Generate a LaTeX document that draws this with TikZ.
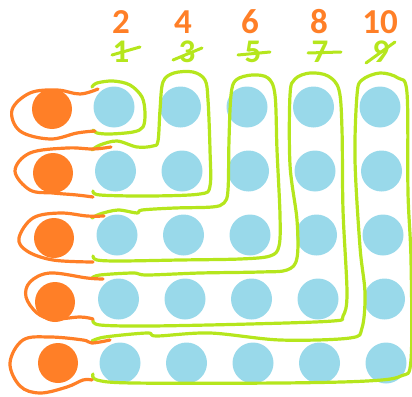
\documentclass[tikz,border=0pt]{standalone}
\usepackage{fontspec}
\setmainfont{Carlito}
\definecolor{dotblue}{HTML}{99D9EA}
\definecolor{dotorange}{HTML}{FF7F27}
\definecolor{loopgreen}{HTML}{B5E61D}
\begin{document}
\begin{tikzpicture}[x=1pt,y=-1pt,line cap=round,line join=round,
  bluedot/.style={circle,fill=dotblue,minimum size=41pt,inner sep=0pt},
  orangedot/.style={circle,fill=dotorange,minimum size=40pt,inner sep=0pt},
  greenloop/.style={draw=loopgreen,line width=3.2pt},
  orangeloop/.style={draw=dotorange,line width=3.2pt},
  strike/.style={draw=loopgreen,line width=3pt},
  evennum/.style={text=dotorange,inner sep=0pt,font=\fontsize{35}{36}\selectfont\bfseries},
  oddnum/.style={text=loopgreen,inner sep=0pt,font=\fontsize{33}{34}\selectfont\bfseries}]
  \useasboundingbox (0,0) rectangle (412,396);
  % dots
  \foreach \r in {1,...,5} {
    \foreach \c in {1,...,5}
      \node[bluedot] (b\r\c) at ({114+66.5*(\c-1)+1.5*(\r-1)},{107+64*(\r-1)}) {};
  }
  \foreach \r/\x/\y in {1/52/109,2/53/173,3/54/238,4/55/302,5/58/363}
    \node[orangedot] (o\r) at (\x,\y) {};
  % numbers
  \foreach \n/\x in {2/121,4/183,6/250,8/319,10/380}
    \node[evennum] (num\n) at (\x,22) {\n};
  \foreach \n/\x/\ax/\ay/\bx/\by in {1/121/-9/3/19/-5,3/187/-14/8/15/-4,5/253/-15/3/17/0,7/320/-12/1/21/0,9/381/-15/11/14/-10} {
    \node[oddnum] (odd\n) at (\x,52) {\n};
    \draw[strike] ([shift={(\ax,\ay)}]odd\n.center) -- ([shift={(\bx,\by)}]odd\n.center);
  }
  % green loops
  \draw[greenloop] plot[smooth,tension=0.55] coordinates {(92,87) (97,83) (113,81) (130,85) (142,97) (145,113) (143,127) (133,132) (110,134) (97,133) (93,130)};
  \draw[greenloop] plot[smooth,tension=0.55] coordinates {(92,150) (100,145) (117,141) (137,147) (153,146) (158,141) (160,110) (163,82) (174,73) (193,72) (205,80) (208,100) (210,150) (210,186) (200,194) (150,196) (100,195) (93,191)};
  \draw[greenloop] plot[smooth,tension=0.55] coordinates {(92,218) (100,214) (118,210) (137,213) (142,210) (175,208) (212,207) (224,203) (228,190) (229,140) (231,95) (236,80) (252,75) (268,78) (275,95) (277,150) (280,215) (279,246) (270,256) (240,259) (180,260) (120,261) (97,260) (93,256)};
  \draw[greenloop] plot[smooth,tension=0.55] coordinates {(92,278) (100,275) (133,273) (147,275) (200,273) (260,272) (287,270) (297,258) (297,220) (290,165) (290,95) (295,79) (310,73) (328,76) (339,90) (342,130) (343,210) (347,293) (343,316) (333,321) (250,324) (150,326) (100,325) (93,320)};
  \draw[greenloop] plot[smooth,tension=0.55] coordinates {(92,341) (105,337) (147,333) (157,336) (210,333) (280,340) (350,338) (362,328) (365,293) (360,247) (355,160) (357,95) (362,80) (380,73) (398,78) (407,93) (408,193) (411,260) (411,360) (401,376) (367,381) (280,383) (133,383) (97,380) (93,374)};
  % orange loops
  \draw[orangeloop] plot[smooth,tension=0.6] coordinates {(98,89) (80,94) (57,90) (30,93) (12,110) (20,131) (50,139) (77,133) (95,131)};
  \draw[orangeloop] plot[smooth,tension=0.6] coordinates {(111,147) (93,149) (67,148) (30,153) (15,171) (30,190) (53,193) (77,195) (93,197)};
  \draw[orangeloop] plot[smooth,tension=0.6] coordinates {(104,216) (87,216) (60,213) (33,218) (19,238) (27,251) (53,260) (93,262)};
  \draw[orangeloop] plot[smooth,tension=0.6] coordinates {(103,279) (87,278) (50,273) (30,282) (26,297) (37,313) (53,319) (80,317) (93,319)};
  \draw[orangeloop] plot[smooth,tension=0.6] coordinates {(110,340) (92,343) (83,340) (50,337) (23,340) (10,363) (20,386) (40,393) (67,387) (83,380) (92,380)};
\end{tikzpicture}
\end{document}
